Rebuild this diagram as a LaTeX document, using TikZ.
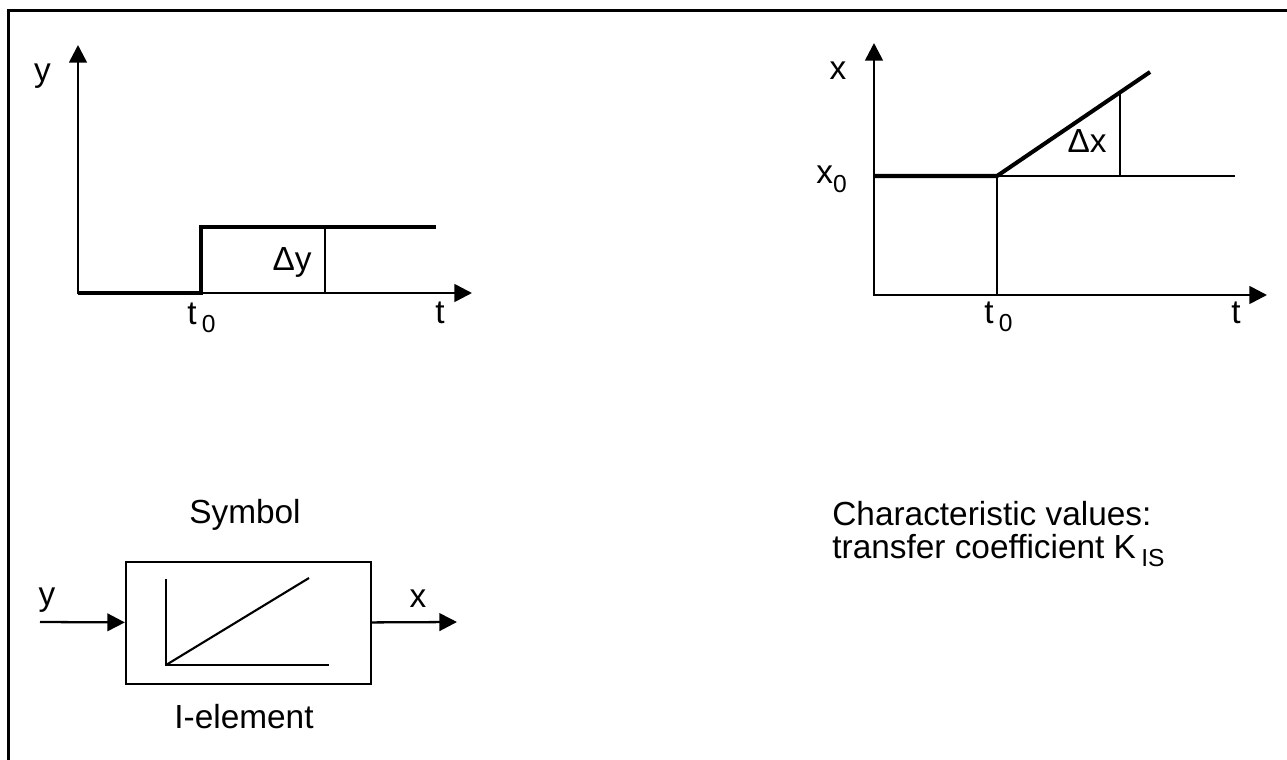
\documentclass[tikz,border=0pt]{standalone}
\usepackage{fontspec}
\setmainfont{Liberation Sans}
\usetikzlibrary{arrows.meta,positioning}
% lowered index, as in t0, x0, KIS
\newcommand{\lowidx}[1]{\raisebox{-5pt}{\fontsize{14}{14}\selectfont #1}}

\begin{document}
\begin{tikzpicture}[x=0.02cm,y=-0.02cm,
    font=\fontsize{19}{19}\selectfont,
    >={Triangle[length=10pt 0,width=10pt 0]},
    axis/.style={line width=1.5pt,<->},
    signal/.style={line width=2.3pt},
    helper/.style={line width=0.7pt},
    flow/.style={line width=1.3pt,->},
    block/.style={draw,line width=1.3pt,minimum width=4.9cm,minimum height=2.44cm},
    lbl/.style={anchor=base,inner sep=0pt}]
  \useasboundingbox (0,0) rectangle (1287,760);
  % Rahmen
  \draw[line width=1.8pt] (8.5,760) -- (8.5,10.7) -- (1287,10.7);
  % Sprung am Eingang
  \coordinate (o1) at (78,293);
  \draw[axis] (78,45) -- (o1) -- (472,293);
  \draw[signal] (o1) -- (201,293) -- (201,227) -- (436,227);
  \draw[helper] (325,227) -- (325,293);
  \node[lbl] (ylab) at (42.5,82) {y};
  \node[lbl] (dy) at (292,270) {Δy};
  \node[lbl,anchor=base west] (t0a) at (187,324) {t\kern3pt\lowidx{0}};
  \node[lbl] (ta) at (440,323) {t};
  % Antwort am Ausgang
  \coordinate (o2) at (874,295);
  \draw[axis] (874,43) -- (o2) -- (1267,295);
  \draw[helper] (997,295) -- (997,176) -- (1235,176);
  \draw[helper] (1120,176) -- (1120,93);
  \draw[signal] (874,176) -- (997,176) -- (1150,72);
  \node[lbl] (xlab) at (838,80) {x};
  \node[lbl,anchor=base west] (x0) at (816,184) {x\lowidx{0}};
  \node[lbl] (dx) at (1087,153) {Δx};
  \node[lbl,anchor=base west] (t0b) at (984,323) {t\kern3pt\lowidx{0}};
  \node[lbl] (tb) at (1236,323) {t};
  % Symbol
  \node[lbl] (sym) at (245,523) {Symbol};
  \node[block] (ielem) at (248.5,623) {};
  \draw[line width=1.2pt] (166,579) -- (166,665) -- (329,665);
  \draw[line width=1.2pt] (166,665) -- (309,578);
  \coordinate (yin) at (40,622);
  \coordinate (xout) at (457,622);
  \draw[flow] (yin) -- (ielem);
  \draw[flow] (ielem) -- (xout);
  \node[lbl] (ysym) at (47,605) {y};
  \node[lbl] (xsym) at (418,607) {x};
  \node[lbl] (ilab) at (244,728) {I-element};
  % Kennwerte
  \node[lbl,anchor=base west] (char) at (832,525) {Characteristic values:};
  \node[lbl,anchor=base west] (coef) at (832,558) {transfer coefficient K\kern3pt\lowidx{IS}};
\end{tikzpicture}
\end{document}
